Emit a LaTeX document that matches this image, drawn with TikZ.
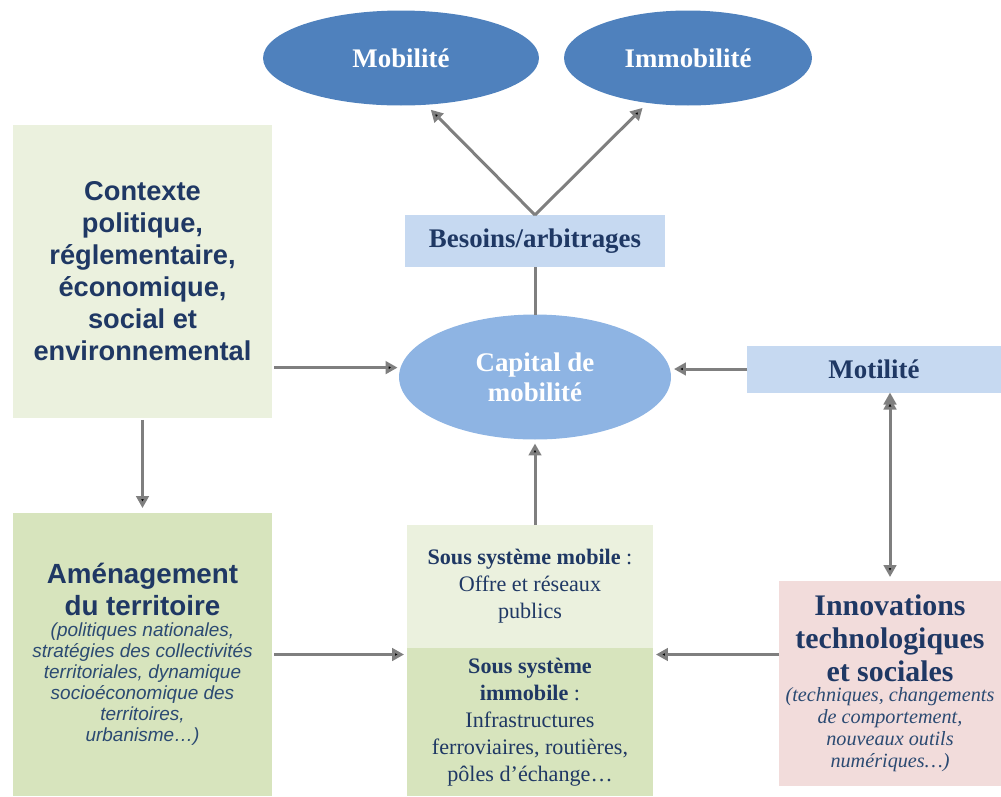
\documentclass[tikz,border=0pt]{standalone}
\usepackage{fontspec}
\setmainfont{Liberation Serif}
\setsansfont{Liberation Sans}
\usetikzlibrary{shapes.geometric,arrows.meta}

\definecolor{titleblue}{HTML}{1F3864}
\definecolor{noteblue}{HTML}{2B4A72}
\definecolor{ovalblue}{HTML}{4F81BD}
\definecolor{capblue}{HTML}{8EB4E3}
\definecolor{paleblue}{HTML}{C6D9F1}
\definecolor{palegreen}{HTML}{EBF1DE}
\definecolor{midgreen}{HTML}{D7E4BD}
\definecolor{palerose}{HTML}{F2DCDB}
\definecolor{arrowgray}{HTML}{7F7F7F}

\begin{document}
\begin{tikzpicture}[x=0.02cm,y=-0.02cm,
  box node/.style={rectangle,outer sep=0pt,inner sep=2pt,align=center,
  text=titleblue},
  oval node/.style={ellipse,outer sep=0pt,inner sep=0pt,align=center,
  text=white,font=\bfseries\fontsize{15.3}{17}\selectfont},
  link/.style={draw=arrowgray,line width=0.06cm,
  >={Triangle[length=0.24cm,width=0.25cm]},->}]

  \useasboundingbox (0,0) rectangle (1001,796);

  \node[oval node,fill=ovalblue,minimum width=5.52cm,minimum height=1.9cm] (mob) at (401,58) {Mobilité};
  \node[oval node,fill=ovalblue,minimum width=4.96cm,minimum height=1.9cm] (immob) at (688,58) {Immobilité};
  \node[box node,fill=paleblue,minimum width=5.2cm,minimum height=1.04cm,
    font=\bfseries\fontsize{15.3}{17}\selectfont] (bes) at (535,241) {Besoins/arbitrages};
  \node[oval node,fill=capblue,minimum width=5.44cm,minimum height=2.5cm] (cap) at (535,377) {Capital de\\mobilité};
  \node[box node,fill=paleblue,minimum width=5.08cm,minimum height=0.94cm,
    font=\bfseries\fontsize{15.3}{17}\selectfont] (mot) at (874,369) {Motilité};

  \node[box node,fill=palegreen,minimum width=5.2cm,minimum height=5.86cm,
    font=\sffamily\bfseries\fontsize{15.5}{18.2}\selectfont] (ctx) at (142.5,271.5)
    {Contexte\\politique,\\réglementaire,\\économique,\\social et\\environnemental};
  \node[box node,fill=midgreen,minimum width=5.2cm,minimum height=5.66cm,
    font=\sffamily\fontsize{10.8}{12}\selectfont] (amen) at (142.5,654.5)
    {{\bfseries\fontsize{15.8}{16.5}\selectfont Aménagement}\\[2pt]
     {\bfseries\fontsize{15.8}{16.5}\selectfont du territoire}\\
     {\color{noteblue}\itshape (politiques nationales,}\\
     {\color{noteblue}\itshape stratégies des collectivités}\\
     {\color{noteblue}\itshape territoriales, dynamique}\\
     {\color{noteblue}\itshape socioéconomique des}\\
     {\color{noteblue}\itshape territoires,}\\
     {\color{noteblue}\itshape urbanisme…)}};

  \node[box node,fill=palegreen,minimum width=4.92cm,minimum height=2.46cm,
    font=\fontsize{12.6}{15.4}\selectfont] (ssm) at (530,586.5)
    {\textbf{Sous système mobile} :\\Offre et réseaux\\publics};
  \node[box node,fill=midgreen,minimum width=4.92cm,minimum height=2.96cm,
    font=\fontsize{12.6}{15.4}\selectfont] (ssi) at (530,722)
    {\textbf{Sous système}\\\textbf{immobile} :\\Infrastructures\\ferroviaires, routières,\\pôles d’échange…};

  \node[box node,fill=palerose,minimum width=4.44cm,minimum height=4.1cm,
    font=\fontsize{17}{18.8}\selectfont] (inn) at (890,683.5)
    {\textbf{Innovations}\\
     \textbf{technologiques}\\
     \textbf{et sociales}\\[-7.4pt]
     {\color{noteblue}\itshape\fontsize{11.5}{12.5}\selectfont (techniques, changements}\\[-6.3pt]
     {\color{noteblue}\itshape\fontsize{11.5}{12.5}\selectfont de comportement,}\\[-6.3pt]
     {\color{noteblue}\itshape\fontsize{11.5}{12.5}\selectfont nouveaux outils}\\[-6.3pt]
     {\color{noteblue}\itshape\fontsize{11.5}{12.5}\selectfont numériques…)}};

  \path[link]
    % vers les deux issues
    (bes.north) edge[shorten >=0.14cm] (mob.-62)
    (bes.north) edge[shorten >=0.14cm] (immob.-132)
    (bes.south) edge[-] (cap.north)
    % ce qui alimente le capital
    (ctx.east |- cap.176) edge[shorten >=0.06cm,shorten <=0.04cm] (cap.176)
    (mot.west) edge[shorten >=0.06cm] (mot.west -| cap.east)
    (cap.south |- ssm.north) edge[shorten >=0.08cm] (cap.south)
    (ctx.south) edge[shorten >=0.1cm,shorten <=0.04cm] (amen.north)
    (amen.east) edge[shorten >=0.06cm,shorten <=0.04cm] (amen.east -| ssi.west)
    (inn.west |- amen.east) edge[shorten >=0.06cm] (amen.east -| ssi.east)
    (inn.north |- mot.south) edge[<->,shorten >=0.08cm,shorten <=0.1cm] (inn.north);
\end{tikzpicture}
\end{document}
